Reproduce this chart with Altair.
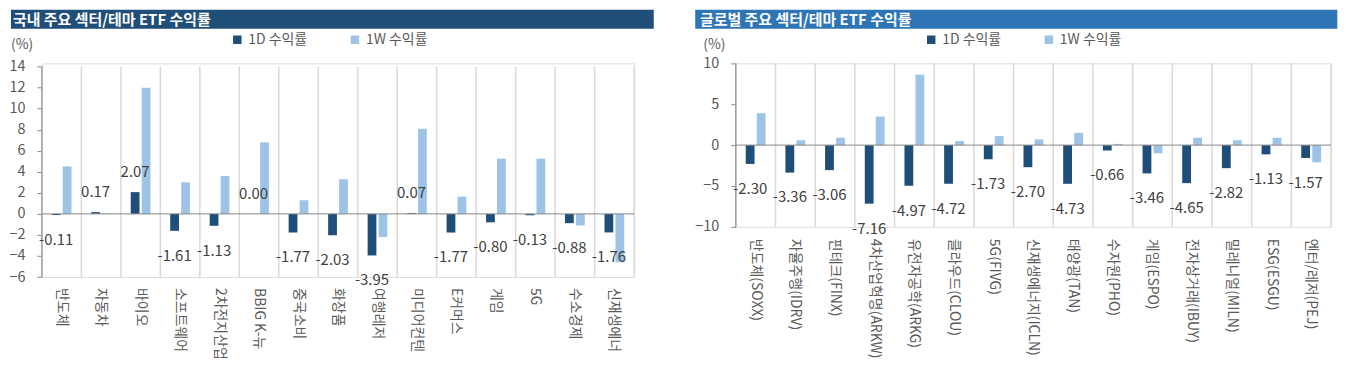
import altair as alt
import pandas as pd

FONT = "Noto Sans CJK KR"
DARK = "#1F4E79"
LIGHT = "#9DC3E6"
GRID = "#D9D9D9"
AXIS = "#868686"
TXT = "#595959"
LBL = "#404040"

series_names = ["1D 수익률", "1W 수익률"]

left_title = "국내 주요 섹터/테마 ETF 수익률"
left_cats = ["반도체", "자동차", "바이오", "소프트웨어", "2차전지산업", "BBIG K-뉴딜", "중국소비",
             "화장품", "여행레저", "미디어컨텐츠", "E커머스", "게임", "5G", "수소경제", "신재생에너지"]
left_1d = [-0.11, 0.17, 2.07, -1.61, -1.13, 0.00, -1.77, -2.03, -3.95, 0.07, -1.77, -0.80, -0.13, -0.88, -1.76]
left_1w = [4.5, 0.05, 12.0, 3.0, 3.6, 6.8, 1.3, 3.3, -2.2, 8.1, 1.65, 5.25, 5.25, -1.1, -4.6]
left_ticks = [-6, -4, -2, 0, 2, 4, 6, 8, 10, 12, 14]

right_title = "글로벌 주요 섹터/테마 ETF 수익률"
right_cats = ["반도체(SOXX)", "자율주행(IDRV)", "핀테크(FINX)", "4차산업혁명(ARKW)", "유전자공학(ARKG)",
              "클라우드(CLOU)", "5G(FIVG)", "신재생에너지(ICLN)", "태양광(TAN)", "수자원(PHO)",
              "게임(ESPO)", "전자상거래(IBUY)", "밀레니얼(MILN)", "ESG(ESGU)", "엔터/레저(PEJ)"]
right_1d = [-2.30, -3.36, -3.06, -7.16, -4.97, -4.72, -1.73, -2.70, -4.73, -0.66, -3.46, -4.65, -2.82, -1.13, -1.57]
right_1w = [3.9, 0.6, 0.9, 3.5, 8.6, 0.5, 1.1, 0.7, 1.5, 0.15, -1.0, 0.9, 0.6, 0.9, -2.1]
right_ticks = [-10, -5, 0, 5, 10]


def long_df(cats, d1, w1):
    rows = []
    for c, a, b in zip(cats, d1, w1):
        rows.append({"cat": c, "series": series_names[0], "v": a, "lbl": f"{a:.2f}"})
        rows.append({"cat": c, "series": series_names[1], "v": b, "lbl": ""})
    return pd.DataFrame(rows)


def panel(title, cats, d1, w1, ticks, domain, W, H, g, barcol):
    df = long_df(cats, d1, w1)
    xsc = alt.Scale(domain=cats, paddingInner=0, paddingOuter=0)
    ysc = alt.Scale(domain=domain, nice=False, zero=False)
    yaxis = alt.Axis(values=ticks, title=None, grid=False, domain=False, tickColor=AXIS,
                     tickSize=5, labelPadding=12, labelFontSize=14.5, labelColor=TXT, labelFont=FONT)
    X = alt.X("cat:N", scale=xsc, sort=cats, axis=None)
    XO = alt.XOffset("series:N", scale=alt.Scale(domain=series_names, paddingInner=0.2, paddingOuter=0.9))
    Y = alt.Y("v:Q", scale=ysc, axis=yaxis)

    ends = pd.DataFrame({"cat": cats, "a": [ticks[0]] * len(cats), "b": [ticks[-1]] * len(cats)})
    grid = alt.Chart(ends).mark_rule(color=GRID, strokeWidth=1.5).encode(
        x=alt.X("cat:N", scale=xsc, sort=cats, axis=None, bandPosition=0),
        y=alt.Y("a:Q", scale=ysc, axis=yaxis), y2="b:Q")
    redge = alt.Chart(ends.head(1)).mark_rule(color=GRID, strokeWidth=1.5).encode(
        x=alt.value(W), y=alt.Y("a:Q", scale=ysc, axis=yaxis), y2="b:Q")
    yline = alt.Chart(ends.head(1)).mark_rule(color=AXIS, strokeWidth=1).encode(
        x=alt.value(0), y=alt.Y("a:Q", scale=ysc, axis=yaxis), y2="b:Q")

    base = alt.Chart(df)
    bars = base.mark_bar().encode(
        x=X, xOffset=XO, y=Y,
        color=alt.Color("series:N", scale=alt.Scale(domain=series_names, range=[DARK, LIGHT]),
                        legend=alt.Legend(orient="none", legendX=g["lx"], legendY=g["ly"],
                                          direction="horizontal", title=None, symbolType="square",
                                          symbolSize=72, symbolStrokeWidth=0, labelFontSize=14,
                                          labelColor=TXT, labelFont=FONT, columnPadding=40,
                                          labelOffset=4, padding=0)),
    )
    neg = base.transform_filter(f"datum.series == '{series_names[0]}' && datum.v < 0").mark_text(
        dy=25, fontSize=15, color=LBL, font=FONT).encode(x=X, xOffset=XO, y=Y, text="lbl:N")
    pos = base.transform_filter(f"datum.series == '{series_names[0]}' && datum.v >= 0").mark_text(
        dy=-20, fontSize=15, color=LBL, font=FONT).encode(x=X, xOffset=XO, y=Y, text="lbl:N")

    zero = alt.Chart(pd.DataFrame({"v": [0]})).mark_rule(color=AXIS, strokeWidth=1).encode(y=Y)

    one = pd.DataFrame({"t": [title], "u": ["(%)"]})
    bar_rect = alt.Chart(one).mark_rect(color=barcol).encode(
        x=alt.value(g["bx1"]), x2=alt.value(g["bx2"]), y=alt.value(g["by1"]), y2=alt.value(g["by2"]))
    bar_txt = alt.Chart(one).mark_text(align="left", baseline="middle", fontSize=15, fontWeight="bold",
                                       color="white", font=FONT).encode(
        text="t:N", x=alt.value(g["tx"]), y=alt.value((g["by1"] + g["by2"]) / 2 + 1))
    unit = alt.Chart(one).mark_text(align="left", baseline="middle", fontSize=14, color=TXT, font=FONT).encode(
        text="u:N", x=alt.value(g["ux"]), y=alt.value(g["uy"]))

    xl = alt.Chart(pd.DataFrame({"cat": cats})).mark_text(
        angle=90, align="left", baseline="middle", fontSize=14, color=TXT, font=FONT,
        limit=g["lim"], ellipsis=" ").encode(x=X, y=alt.value(H + g["xo"]), text="cat:N")

    return alt.layer(grid, redge, bars, zero, yline, neg, pos, bar_rect, bar_txt, unit, xl).properties(
        width=W, height=H)


left = panel(left_title, left_cats, left_1d, left_1w, left_ticks, [-6, 14.31], 594, 214.3,
             dict(bx1=-31, bx2=613.7, by1=-53.7, by2=-34.7, tx=-29, ux=-31, uy=-18.7, lx=189, ly=-30.7,
                  lim=74, xo=11), "#1F4E79")
right = panel(right_title, right_cats, right_1d, right_1w, right_ticks, [-10, 10], 597, 164,
              dict(bx1=-40.7, bx2=603.3, by1=-53.7, by2=-34.7, tx=-36, ux=-32.7, uy=-18.7, lx=189,
                   ly=-30.7, lim=123, xo=12), "#2E75B6")

chart = alt.hconcat(left, right, spacing=39).resolve_scale(
    color="independent", x="independent", y="independent", xOffset="independent"
).resolve_legend(color="independent").properties(padding=0).configure_view(strokeWidth=0).configure(font=FONT)

chart.save("out.html", embed_options={"renderer": "svg", "actions": False})
